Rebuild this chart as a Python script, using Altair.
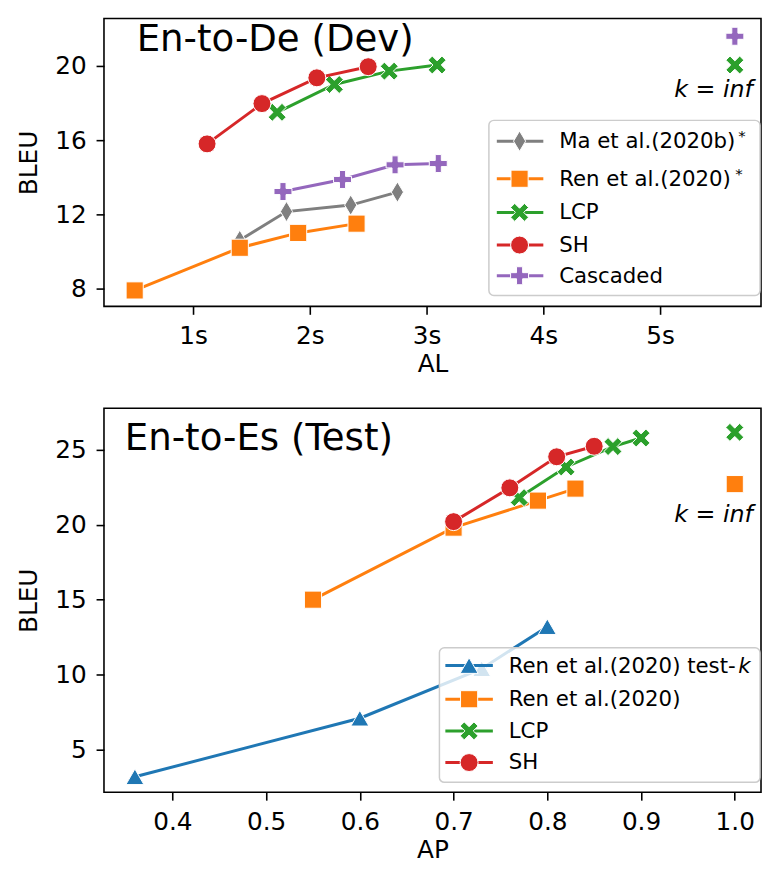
import altair as alt
import pandas as pd

FONT = "DejaVu Sans"

# ---------------- data: top panel (En-to-De Dev), x = AL (seconds) ----------------
ma_al = [1.4, 1.8, 2.35, 2.75]
ma_bleu = [10.6, 12.15, 12.5, 13.2]
ren_al = [0.5, 1.4, 1.9, 2.4]
ren_bleu = [7.9, 10.2, 11.0, 11.5]
lcp_al = [1.72, 2.21, 2.68, 3.09]
lcp_bleu = [17.5, 19.0, 19.72, 20.05]
sh_al = [1.12, 1.59, 2.06, 2.5]
sh_bleu = [15.8, 17.97, 19.36, 19.96]
cas_al = [1.77, 2.28, 2.73, 3.1]
cas_bleu = [13.23, 13.88, 14.67, 14.74]
inf_top_series = ["Cascaded", "LCP"]
inf_top_al = [5.64, 5.64]
inf_top_bleu = [21.6, 20.05]

# ---------------- data: bottom panel (En-to-Es Test), x = AP ----------------
rtk_ap = [0.36, 0.6, 0.73, 0.8]
rtk_bleu = [3.2, 7.1, 10.4, 13.2]
ren2_ap = [0.55, 0.70, 0.79, 0.83]
ren2_bleu = [15.0, 19.8, 21.6, 22.4]
lcp2_ap = [0.77, 0.82, 0.87, 0.90]
lcp2_bleu = [21.8, 23.84, 25.2, 25.77]
sh2_ap = [0.70, 0.76, 0.81, 0.85]
sh2_bleu = [20.2, 22.45, 24.52, 25.22]
inf_bot_series = ["LCP", "Ren"]
inf_bot_ap = [1.0, 1.0]
inf_bot_bleu = [26.15, 22.7]

top_ticks = [1, 2, 3, 4, 5]
top_yticks = [8, 12, 16, 20]
bot_ticks = [0.4, 0.5, 0.6, 0.7, 0.8, 0.9, 1.0]
bot_yticks = [5, 10, 15, 20, 25]

# ---------------- styles ----------------
X_PATH = "M0.54,-1L1,-0.54L0.46,0L1,0.54L0.54,1L0,0.46L-0.54,1L-1,0.54L-0.46,0L-1,-0.54L-0.54,-1L0,-0.46Z"
P_PATH = "M-0.34,-1H0.34V-0.34H1V0.34H0.34V1H-0.34V0.34H-1V-0.34H-0.34Z"
D_PATH = "M0,-1L0.6,0L0,1L-0.6,0Z"
STYLE = {
    "Ma": ("#7f7f7f", D_PATH, 420),
    "Ren": ("#ff7f0e", "square", 300),
    "LCP": ("#2ca02c", X_PATH, 330),
    "SH": ("#d62728", "circle", 330),
    "Cascaded": ("#9467bd", P_PATH, 330),
    "RenK": ("#1f77b4", "triangle-up", 330),
}

W = 664
H_TOP = 291
H_BOT = 388
TICK_FS = 25


def axis_x(ticks, fmt_expr, title):
    return alt.Axis(values=ticks, title=title, grid=False, domain=False, tickColor="black",
                    tickWidth=1.6, tickSize=8, labelPadding=10, labelFontSize=TICK_FS,
                    titleFontSize=TICK_FS, labelFont=FONT, titleFont=FONT, labelColor="black",
                    titleColor="black", titleFontWeight="normal", titlePadding=3,
                    labelExpr=fmt_expr)


def axis_y(ticks):
    return alt.Axis(values=ticks, title="BLEU", grid=False, domain=False, tickColor="black",
                    tickWidth=1.6, tickSize=8, labelPadding=10, labelFontSize=TICK_FS,
                    titleFontSize=TICK_FS, labelFont=FONT, titleFont=FONT, labelColor="black",
                    titleColor="black", titleFontWeight="normal", titlePadding=13)


def series_layers(name, xs, ys, xenc, yenc):
    color, shape, size = STYLE[name]
    df = pd.DataFrame({"x": xs, "y": ys})
    line = alt.Chart(df).mark_line(color=color, strokeWidth=3).encode(x=xenc, y=yenc)
    pts = alt.Chart(df).mark_point(shape=shape, size=size, filled=True, fill=color, stroke="white",
                                   strokeWidth=1, opacity=1).encode(x=xenc, y=yenc)
    return [line, pts]


def points_only(names, xs, ys, xenc, yenc):
    out = []
    for n, xv, yv in zip(names, xs, ys):
        color, shape, size = STYLE[n]
        df = pd.DataFrame({"x": [xv], "y": [yv]})
        out.append(alt.Chart(df).mark_point(shape=shape, size=size, filled=True, fill=color,
                                            stroke="white", strokeWidth=1, opacity=1)
                   .encode(x=xenc, y=yenc))
    return out


DUMMY = pd.DataFrame({"a": [0]})


def text_at(txt, x, y, size, align="left", baseline="alphabetic", style="normal"):
    return alt.Chart(DUMMY).mark_text(text=txt, font=FONT, fontSize=size, align=align,
                                      baseline=baseline, fontStyle=style, color="black").encode(
        x=alt.value(x), y=alt.value(y))


def legend(box, rows, line_x, mark_x, text_x, entries):
    x0, x1, y0, y1 = box
    out = [alt.Chart(DUMMY).mark_rect(fill="white", fillOpacity=0.8, stroke="#cccccc",
                                      strokeWidth=1.5, cornerRadius=5).encode(
        x=alt.value(x0), x2=alt.value(x1), y=alt.value(y0), y2=alt.value(y1))]
    for ry, (name, label) in zip(rows, entries):
        color, shape, size = STYLE[name]
        out.append(alt.Chart(DUMMY).mark_rule(color=color, strokeWidth=3).encode(
            x=alt.value(line_x[0]), x2=alt.value(line_x[1]), y=alt.value(ry)))
        out.append(alt.Chart(DUMMY).mark_point(shape=shape, size=size, filled=True, fill=color,
                                               stroke="white", strokeWidth=1, opacity=1).encode(
            x=alt.value(mark_x), y=alt.value(ry)))
        out.append(text_at(label, text_x, ry + 1, 21.5, baseline="middle"))
    return out


# ---------------- top panel ----------------
xs_top = alt.Scale(domain=[0.237, 5.864], nice=False, zero=False)
ys_top = alt.Scale(domain=[7.04, 22.56], nice=False, zero=False)
xe_top = alt.X("x:Q", scale=xs_top, axis=axis_x(top_ticks, "datum.value + 's'", "AL"))
ye_top = alt.Y("y:Q", scale=ys_top, axis=axis_y(top_yticks))

top_layers = []
for name, xs, ys in [("Ma", ma_al, ma_bleu), ("Ren", ren_al, ren_bleu), ("LCP", lcp_al, lcp_bleu),
                     ("SH", sh_al, sh_bleu), ("Cascaded", cas_al, cas_bleu)]:
    top_layers += series_layers(name, xs, ys, xe_top, ye_top)
top_layers += points_only(inf_top_series, inf_top_al, inf_top_bleu, xe_top, ye_top)
top_layers.append(text_at("En-to-De (Dev)", 33, 33, 37.5))
top_layers.append(text_at("k = inf", 616, 79, 24, align="center", style="italic"))
top_layers += legend((389, 663, 103, 280), [124, 162, 196, 229, 260], (397, 444), 420, 460,
                     [("Ma", "Ma et al.(2020b)"), ("Ren", "Ren et al.(2020)"), ("LCP", "LCP"),
                      ("SH", "SH"), ("Cascaded", "Cascaded")])
top_layers.append(text_at("*", 641, 124, 15))
top_layers.append(text_at("*", 638, 162, 15))

top = alt.layer(*top_layers).properties(width=W, height=H_TOP)

# ---------------- bottom panel ----------------
xs_bot = alt.Scale(domain=[0.327, 1.028], nice=False, zero=False)
ys_bot = alt.Scale(domain=[2.17, 27.75], nice=False, zero=False)
xe_bot = alt.X("x:Q", scale=xs_bot, axis=axis_x(bot_ticks, "format(datum.value, '.1f')", "AP"))
ye_bot = alt.Y("y:Q", scale=ys_bot, axis=axis_y(bot_yticks))

bot_layers = []
for name, xs, ys in [("RenK", rtk_ap, rtk_bleu), ("Ren", ren2_ap, ren2_bleu),
                     ("LCP", lcp2_ap, lcp2_bleu), ("SH", sh2_ap, sh2_bleu)]:
    bot_layers += series_layers(name, xs, ys, xe_bot, ye_bot)
bot_layers += points_only(inf_bot_series, inf_bot_ap, inf_bot_bleu, xe_bot, ye_bot)
bot_layers.append(text_at("En-to-Es (Test)", 21, 42, 37.5))
bot_layers.append(text_at("k = inf", 616, 115, 24, align="center", style="italic"))
bot_layers += legend((339, 663, 242, 378), [260, 294, 326, 358], (345, 393), 369, 409,
                     [("RenK", "Ren et al.(2020) test-"), ("Ren", "Ren et al.(2020)"),
                      ("LCP", "LCP"), ("SH", "SH")])
bot_layers.append(text_at("k", 641, 261, 21.5, baseline="middle", style="italic"))

bottom = alt.layer(*bot_layers).properties(width=W, height=H_BOT)

chart = alt.vconcat(top, bottom, spacing=30).properties(
    padding={"left": 8, "top": 5, "right": 0, "bottom": 0}
).configure(background="white").configure_view(stroke="black", strokeWidth=1.6)

chart.save("out.html", embed_options={"renderer": "svg", "actions": False})
